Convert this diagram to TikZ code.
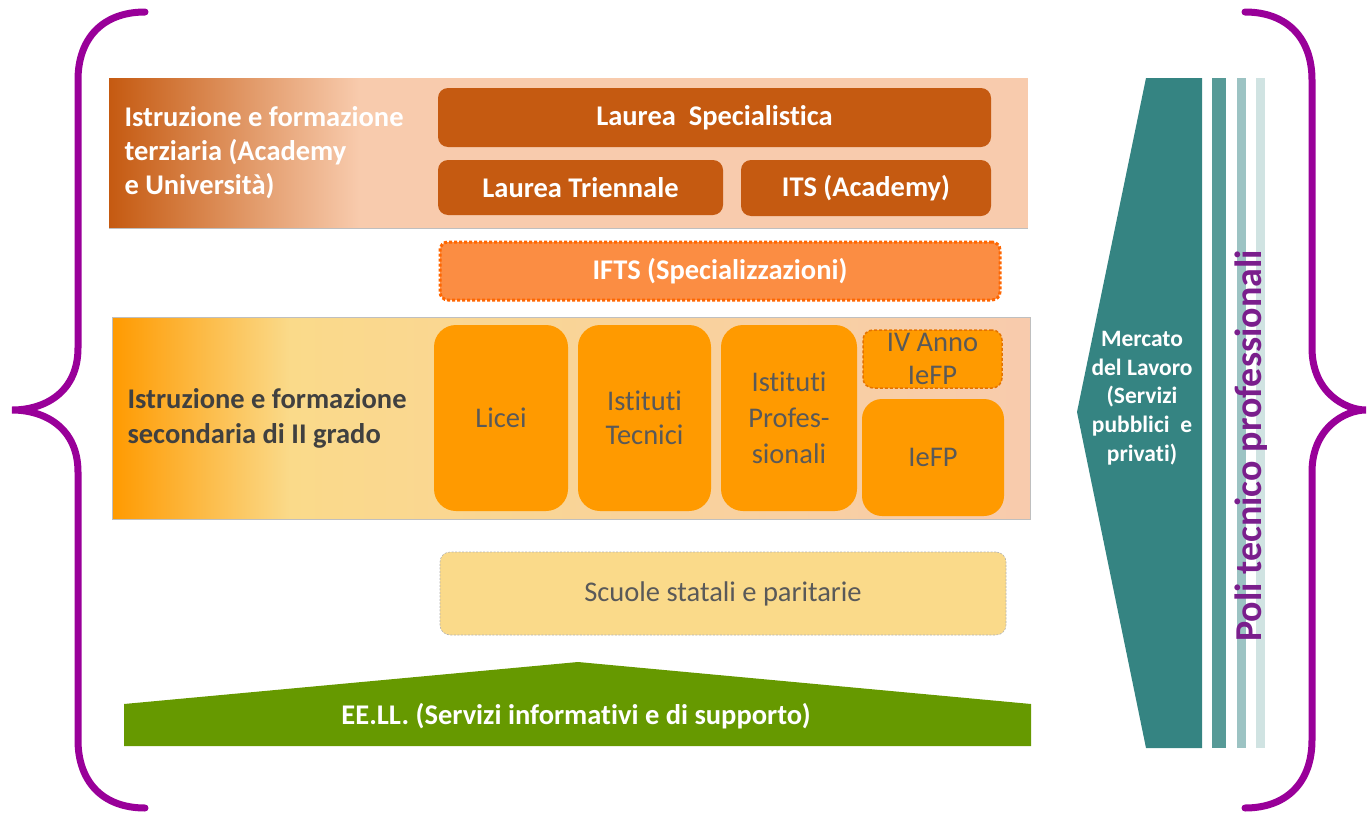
\documentclass[tikz,border=0pt]{standalone}
\usepackage{fontspec}
\setmainfont{Carlito}[RawFeature={-liga}]
\usetikzlibrary{positioning}
\definecolor{terzc}{HTML}{C55A11}
\definecolor{peach}{HTML}{F8CBAD}
\definecolor{iftsc}{HTML}{FB8D43}
\definecolor{iftsline}{HTML}{FF6600}
\definecolor{secc}{HTML}{FF9A00}
\definecolor{yellowc}{HTML}{FADA8A}
\definecolor{greenc}{HTML}{669900}
\definecolor{tealc}{HTML}{358482}
\definecolor{stripa}{HTML}{579A97}
\definecolor{stripb}{HTML}{9CC3C3}
\definecolor{stripc}{HTML}{D0E3E2}
\definecolor{bracec}{HTML}{990099}
\definecolor{polic}{HTML}{7A1E8C}
\definecolor{greytext}{HTML}{595959}
\definecolor{darktext}{HTML}{404040}

\begin{document}
\begin{tikzpicture}[x=1pt, y=-1pt,
    bigfont/.style={font=\fontsize{28.5}{34}\selectfont},
    boldfont/.style={font=\bfseries\fontsize{28.5}{34}\selectfont},
    terzbox/.style={rounded corners=10pt, fill=terzc, text=white, boldfont, inner sep=0pt, outer sep=0pt},
    secbox/.style={rounded corners=22pt, fill=secc, text=greytext, bigfont, align=center, inner sep=0pt, outer sep=0pt, minimum height=186pt},
    brace/.style={draw=bracec, line width=7pt, line cap=round}]
    \useasboundingbox (0,0) rectangle (1369,814);
    % braces
    \draw[brace] (145,12) .. controls (103,12) and (78,38) .. (78,80) -- (78,348)
        .. controls (78,392) and (45,410) .. (12,410)
        .. controls (45,410) and (78,428) .. (78,472) -- (78,740)
        .. controls (78,782) and (103,808) .. (145,808);
    \draw[brace] (1245,12) .. controls (1287,12) and (1312,38) .. (1312,80) -- (1312,348)
        .. controls (1312,392) and (1345,410) .. (1366,410)
        .. controls (1345,410) and (1312,428) .. (1312,472) -- (1312,740)
        .. controls (1312,782) and (1287,808) .. (1245,808);

    % terziaria
    \fill[peach] (109,78) rectangle (1028,228);
    \shade[left color=terzc, right color=peach] (109,78) rectangle (360,228);
    \draw[black!25, line width=0.8pt] (109,228) -- (1028,228);
    \node[anchor=west, align=left, text=white, font=\bfseries\fontsize{28.5}{34}\selectfont] (terz) at (121,153)
        {Istruzione e formazione\\terziaria (Academy\\e Università)};
    \node[terzbox, minimum width=553pt, minimum height=59pt] (lspec) at (714.5,117.5) {Laurea\ \ Specialistica};
    \node[terzbox, minimum width=285pt, minimum height=55pt, below=13pt of lspec.south west, anchor=north west] (ltri) {Laurea Triennale};
    \node[terzbox, minimum width=250pt, minimum height=56pt, below=13pt of lspec.south east, anchor=north east] (its) {ITS (Academy)};

    % IFTS
    \node[rounded corners=8pt, fill=iftsc, draw=iftsline, line width=3pt, dash pattern=on 3pt off 2pt,
        text=white, boldfont, minimum width=560pt, minimum height=58pt, inner sep=0pt] (ifts) at (720,271) {IFTS (Specializzazioni)};

    % secondaria
    \shade[left color=secc, right color=yellowc] (112,317) rectangle (290,519);
    \shade[left color=yellowc, right color=peach] (290,317) rectangle (1030,519);
    \draw[black!25, line width=0.8pt] (112,317) rectangle (1030,519);
    \node[anchor=west, align=left, text=darktext, font=\bfseries\fontsize{28.5}{35}\selectfont] (sec) at (124,418)
        {Istruzione e formazione\\secondaria di II grado};
    \node[secbox, minimum width=134pt] (licei) at (501,418) {Licei};
    \node[secbox, minimum width=133pt, right=10pt of licei] (tecnici) {Istituti\\Tecnici};
    \node[secbox, minimum width=136pt, right=10pt of tecnici, font=\fontsize{28.5}{36}\selectfont] (prof) {Istituti\\Profes-\\sionali};
    \node[rounded corners=10pt, fill=secc, draw=orange!90!black, line width=1.5pt, dash pattern=on 3pt off 2pt,
        text=greytext, font=\fontsize{28.5}{33}\selectfont, align=center, inner sep=0pt,
        minimum width=139pt, minimum height=58pt] (ivanno) at (932.5,359) {IV Anno\\IeFP};
    \node[rounded corners=20pt, fill=secc, text=greytext, bigfont, inner sep=0pt,
        minimum width=142pt, minimum height=117pt] (iefp) at (933,457.5) {IeFP};

    % scuole
    \node[rounded corners=10pt, fill=yellowc, draw=black!30, line width=0.6pt, dash pattern=on 2pt off 1.5pt,
        text=greytext, bigfont, minimum width=566pt, minimum height=83pt, inner sep=0pt] (scuole) at (723,593.5) {Scuole statali e paritarie};

    % EE.LL.
    \fill[greenc] (124,704) -- (578,662) -- (1031,704) -- (1031,746) -- (124,746) -- cycle;
    \node[text=white, boldfont] (eell) at (576,716) {EE.LL. (Servizi informativi e di supporto)};

    % mercato del lavoro
    \fill[tealc] (1146,78) -- (1202,78) -- (1202,748) -- (1146,748) -- (1077,412) -- cycle;
    \fill[stripa] (1212,78) rectangle (1226,748);
    \fill[stripb] (1237,78) rectangle (1246,748);
    \fill[stripc] (1256,78) rectangle (1265,748);
    \node[text=white, align=center, font=\bfseries\fontsize{23.5}{28.7}\selectfont] (mercato) at (1142,398)
        {Mercato\\del Lavoro\\(Servizi\\pubblici\ \ e\\privati)};
    \node[rotate=90, text=polic, font=\bfseries\fontsize{38}{38}\selectfont] (poli) at (1251,446) {Poli tecnico professionali};
\end{tikzpicture}
\end{document}
